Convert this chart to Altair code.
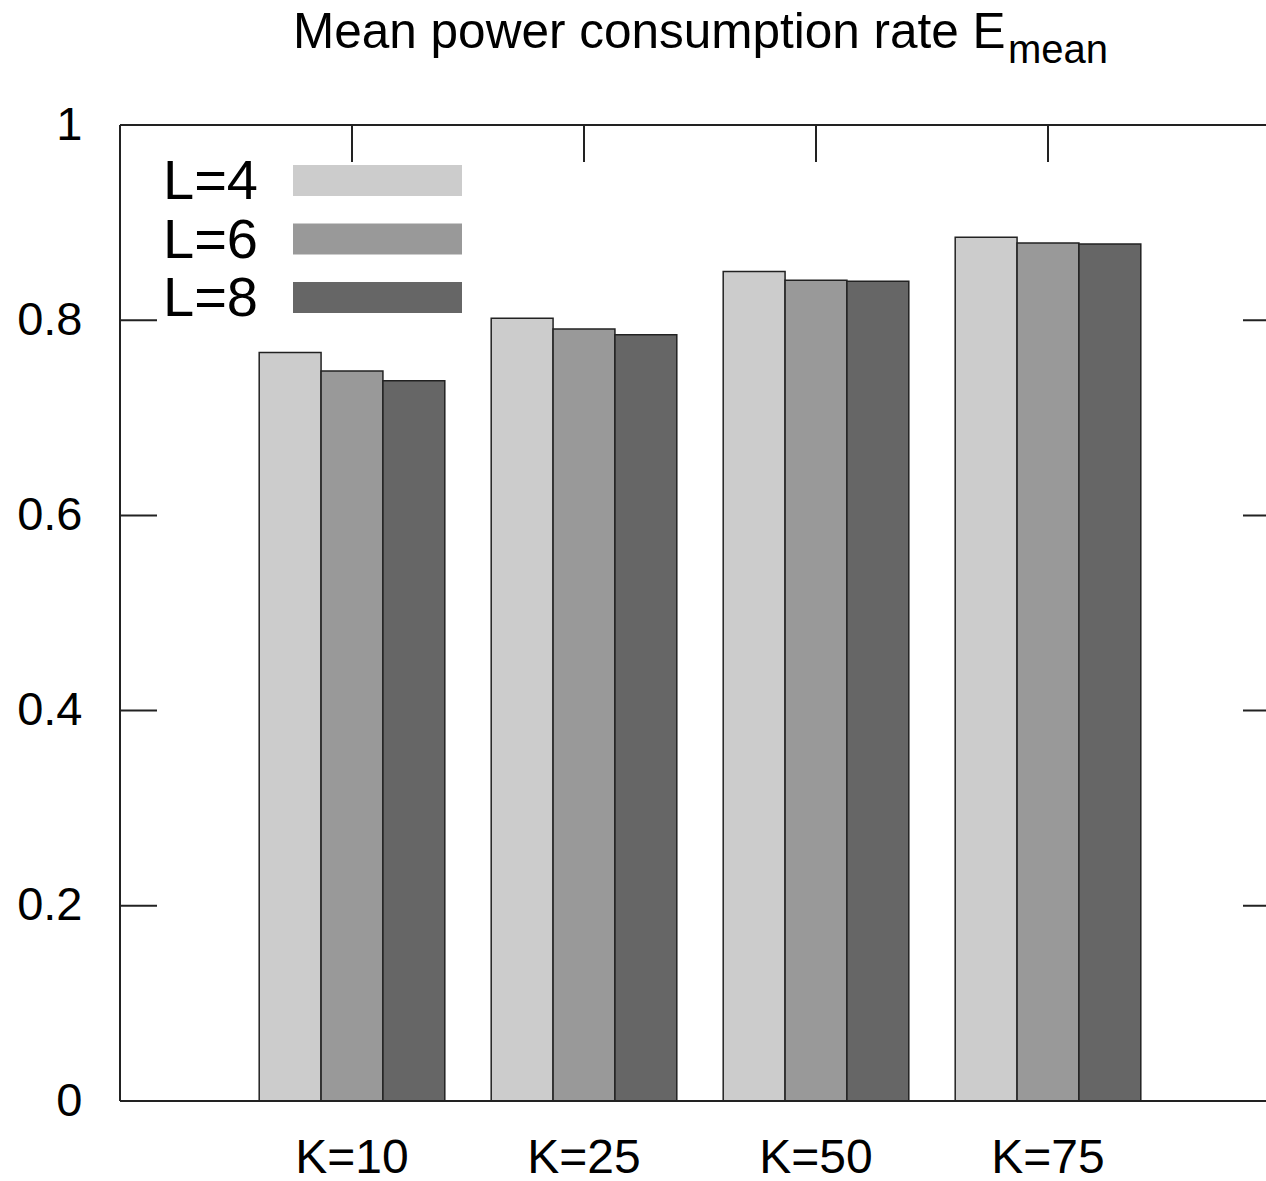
import altair as alt
import pandas as pd

categories = ["K=10", "K=25", "K=50", "K=75"]
series = ["L=4", "L=6", "L=8"]
values_L4 = [0.767, 0.802, 0.850, 0.885]
values_L6 = [0.748, 0.791, 0.841, 0.879]
values_L8 = [0.738, 0.785, 0.840, 0.878]
colors = ["#cccccc", "#999999", "#666666"]
y_ticks = [0, 0.2, 0.4, 0.6, 0.8, 1.0]
title_main = "Mean power consumption rate E"
title_sub = "mean"

rows = []
for s, vals in zip(series, [values_L4, values_L6, values_L8]):
    for k, v in zip(categories, vals):
        rows.append({"K": k, "L": s, "value": v})
df = pd.DataFrame(rows)

W, H = 1146, 976
FULL = 1160
FONT = "Liberation Sans"
LINE = "#222222"

xscale = alt.Scale(domain=categories, range=[0, FULL], paddingInner=0.2, paddingOuter=0.6)
yscale = alt.Scale(domain=[0, 1], nice=False, zero=True)
cscale = alt.Scale(domain=series, range=colors)

xaxis = alt.Axis(title=None, ticks=False, domain=False, labelAngle=0, grid=False,
                 labelFontSize=48, labelFont=FONT, labelColor="black",
                 labelPadding=33, labelBaseline="top")
yaxis = alt.Axis(title=None, values=y_ticks, format="~g", ticks=False, domain=False,
                 grid=False, labelFontSize=47, labelFont=FONT, labelColor="black",
                 labelPadding=38)

bars = alt.Chart(df).mark_bar(stroke=LINE, strokeWidth=1.5).encode(
    x=alt.X("K:N", scale=xscale, sort=categories, axis=xaxis),
    xOffset=alt.XOffset("L:N", sort=series, scale=alt.Scale(paddingInner=0, paddingOuter=0)),
    y=alt.Y("value:Q", scale=yscale, axis=yaxis),
    color=alt.Color("L:N", scale=cscale, legend=None),
)

ytick_df = pd.DataFrame({"value": y_ticks})
left_ticks = alt.Chart(ytick_df).mark_rule(color=LINE, strokeWidth=2).encode(
    y=alt.Y("value:Q", scale=yscale, axis=yaxis), x=alt.value(0), x2=alt.value(37))
right_ticks = alt.Chart(ytick_df).mark_rule(color=LINE, strokeWidth=2).encode(
    y=alt.Y("value:Q", scale=yscale, axis=yaxis), x=alt.value(FULL - 37), x2=alt.value(FULL))
top_ticks = alt.Chart(pd.DataFrame({"K": categories})).mark_rule(color=LINE, strokeWidth=2).encode(
    x=alt.X("K:N", scale=xscale, sort=categories, axis=xaxis), y=alt.value(0), y2=alt.value(37))

one = pd.DataFrame({"a": [0]})
top_line = alt.Chart(one).mark_rule(color=LINE, strokeWidth=2).encode(
    x=alt.value(0), x2=alt.value(FULL), y=alt.value(0))
left_line = alt.Chart(one).mark_rule(color=LINE, strokeWidth=2).encode(
    x=alt.value(0), y=alt.value(0), y2=alt.value(H))
bottom_line = alt.Chart(one).mark_rule(color=LINE, strokeWidth=2).encode(
    x=alt.value(0), x2=alt.value(FULL), y=alt.value(H))

title1 = alt.Chart(pd.DataFrame({"t": [title_main]})).mark_text(
    align="left", baseline="alphabetic", fontSize=49.5, font=FONT, color="black").encode(
    text="t:N", x=alt.value(173), y=alt.value(-77))
title2 = alt.Chart(pd.DataFrame({"t": [title_sub]})).mark_text(
    align="left", baseline="alphabetic", fontSize=40, font=FONT, color="black").encode(
    text="t:N", x=alt.value(888), y=alt.value(-62))

legend_layers = []
for i, s in enumerate(series):
    ldf = pd.DataFrame({"L": [s]})
    legend_layers.append(alt.Chart(ldf).mark_text(
        align="left", baseline="alphabetic", fontSize=56, font=FONT, color="black").encode(
        text="L:N", x=alt.value(43), y=alt.value(74 + 58.5 * i)))
    legend_layers.append(alt.Chart(ldf).mark_rect(color=colors[i]).encode(
        x=alt.value(173), x2=alt.value(342),
        y=alt.value(40 + 58.5 * i), y2=alt.value(71 + 58.5 * i)))

chart = alt.layer(
    bars, left_ticks, right_ticks, top_ticks, top_line, left_line, bottom_line,
    title1, title2, *legend_layers
).properties(
    width=W, height=H,
    autosize=alt.AutoSizeParams(type="none"),
    padding={"left": 120, "top": 125, "right": 0, "bottom": 80},
    background="white",
).configure_view(stroke=None)

chart.save("out.html", embed_options={"renderer": "svg", "actions": False})
